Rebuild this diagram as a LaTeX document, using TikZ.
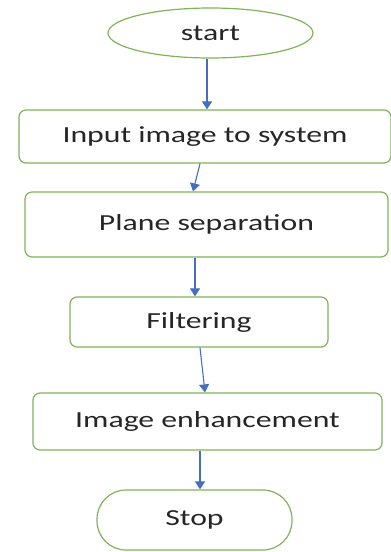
\documentclass[tikz,border=0pt]{standalone}
\usepackage{fontspec}
\setmainfont{Carlito}[FakeStretch=1.38]
\usetikzlibrary{shapes.geometric,arrows.meta}

\definecolor{boxgreen}{RGB}{128,180,90}
\definecolor{arrowblue}{RGB}{70,110,190}

\tikzset{
  stepbox/.style={draw=boxgreen, line width=1.2pt, fill=white, rounded corners=7pt,
    font=\fontsize{23}{26}\selectfont, text=black!85},
  flow/.style={arrowblue, line width=1.1pt, -{Triangle[width=10pt,length=8pt]}}
}

\begin{document}
\begin{tikzpicture}[x=1pt,y=-1pt]
	\useasboundingbox (0,0) rectangle (391,552);
	% terminals and process steps
	\node[stepbox, ellipse, rounded corners=0pt, minimum width=205pt, minimum height=50pt] (start) at (210.5,33) {start};
	\node[stepbox, minimum width=372pt, minimum height=53pt] (input) at (205,136.5) {Input image to system};
	\node[stepbox, minimum width=363pt, minimum height=65pt] (plane) at (206.5,224.5) {Plane separation};
	\node[stepbox, minimum width=258pt, minimum height=50pt] (filter) at (199,322) {Filtering};
	\node[stepbox, minimum width=349pt, minimum height=57pt] (enhance) at (207.5,421.5) {Image enhancement};
	\node[stepbox, rounded corners=29pt, minimum width=195pt, minimum height=60pt] (stop) at (194.5,520) {Stop};
	% arrows between steps
	\draw[flow] ([xshift=-3.5pt]start.south) -- ([xshift=2pt]input.north);
	\draw[flow] ([xshift=-5pt]input.south) -- ([xshift=-13.5pt]plane.north);
	\draw[flow] ([xshift=-11.5pt]plane.south) -- ([xshift=-4pt]filter.north);
	\draw[flow] ([xshift=1pt]filter.south) -- ([xshift=-2.5pt]enhance.north);
	\draw[flow] ([xshift=-7.5pt]enhance.south) -- ([xshift=5.5pt]stop.north);
\end{tikzpicture}
\end{document}
